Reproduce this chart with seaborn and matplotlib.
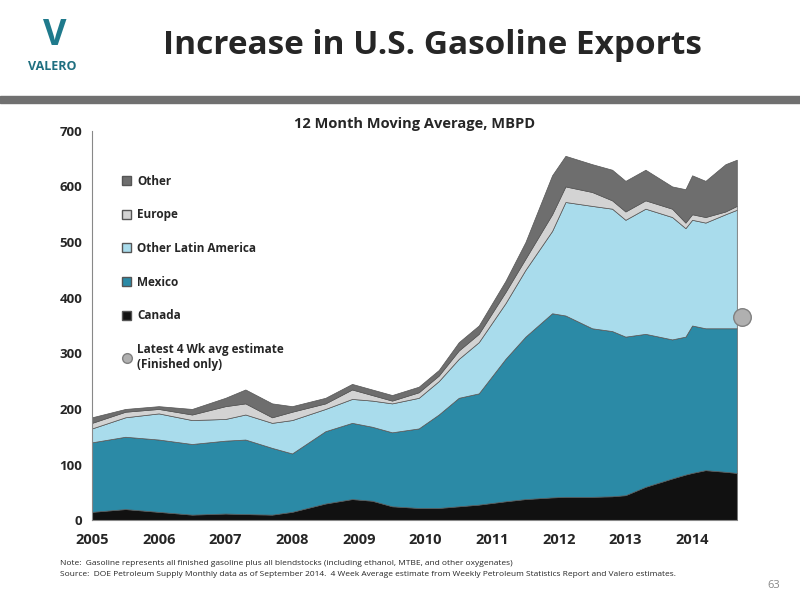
import matplotlib
matplotlib.use("Agg")
import matplotlib.pyplot as plt
import seaborn as sns
import numpy as np
from matplotlib.patches import Patch
from matplotlib.lines import Line2D

# cumulative stack tops, MBPD (12 month moving average)
years = [2005, 2005.5, 2006, 2006.5, 2007, 2007.3, 2007.7, 2008, 2008.5, 2008.9,
         2009.2, 2009.5, 2009.9, 2010.2, 2010.5, 2010.8, 2011.2, 2011.5, 2011.9, 2012.1,
         2012.5, 2012.8, 2013, 2013.3, 2013.7, 2013.9, 2014, 2014.2, 2014.5, 2014.67]
canada = [15, 20, 15, 10, 12, 11, 10, 15, 30, 38, 35, 25, 22, 22, 25, 28, 34, 38, 41, 42,
          42, 43, 45, 60, 75, 82, 85, 90, 87, 85]
mexico_top = [140, 150, 145, 137, 143, 145, 130, 120, 160, 175, 168, 158, 165, 190, 220, 228,
              290, 330, 372, 368, 345, 340, 330, 335, 325, 330, 350, 345, 345, 345]
other_latam_top = [165, 185, 192, 180, 182, 190, 175, 180, 200, 218, 215, 210, 220, 250, 290,
                   320, 390, 450, 520, 572, 565, 560, 540, 560, 545, 525, 540, 535, 550, 558]
europe_top = [175, 195, 200, 190, 205, 210, 185, 195, 210, 235, 225, 215, 230, 260, 305, 335,
              410, 470, 550, 600, 590, 575, 555, 575, 560, 535, 550, 545, 555, 565]
other_top = [185, 200, 205, 200, 220, 235, 210, 205, 220, 245, 235, 225, 240, 270, 320, 350,
             430, 500, 620, 655, 640, 630, 610, 630, 600, 595, 620, 610, 640, 648]
latest_x, latest_y = 2014.75, 365

layers = ["Canada", "Mexico", "Other Latin America", "Europe", "Other"]
colors = ["#111111", "#2b8aa6", "#a9dcec", "#d3d3d3", "#6e6e6e"]
tops = [canada, mexico_top, other_latam_top, europe_top, other_top]

sns.set_style("white")
plt.rcParams['font.family'] = ['Open Sans', 'DejaVu Sans']

fig = plt.figure(figsize=(8, 6), dpi=100)
ax = fig.add_axes([0.115, 0.133, 0.806, 0.649])

bottom = np.zeros(len(years))
for name, col, top in zip(layers, colors, tops):
    top = np.array(top, dtype=float)
    ax.fill_between(years, bottom, top, color=col, lw=0.5, edgecolor="#555555")
    bottom = top

ax.scatter([latest_x], [latest_y], s=160, color="#b0b0b0", edgecolor="#808080",
           zorder=5, clip_on=False)

ax.set_xlim(2005, 2014.67)
ax.set_ylim(0, 700)
ax.set_xticks(range(2005, 2015))
ax.set_yticks(range(0, 701, 100))
ax.tick_params(axis="x", labelsize=10.5, pad=6)
ax.tick_params(axis="y", labelsize=9.5)
for lab in ax.get_xticklabels() + ax.get_yticklabels():
    lab.set_fontweight("bold")
for s in ["top", "right"]:
    ax.spines[s].set_visible(False)
ax.spines["left"].set_color("#888888")
ax.spines["bottom"].set_color("#888888")
ax.set_title("12 Month Moving Average, MBPD", fontsize=10.5, fontweight="bold", pad=2)

handles = [Patch(facecolor=c, edgecolor="#555555") for c in colors[::-1]]
handles.append(Line2D([], [], marker="o", ls="", markersize=7,
                      markerfacecolor="#b0b0b0", markeredgecolor="#808080"))
labels = layers[::-1] + ["Latest 4 Wk avg estimate\n(Finished only)"]
leg = ax.legend(handles, labels, loc="upper left", bbox_to_anchor=(0.03, 0.915), frameon=False,
                labelspacing=1.75, handlelength=0.8, handleheight=0.8, handletextpad=0.5,
                prop={"weight": "bold", "size": 8.5})

# slide decoration
fig.text(0.54, 0.925, "Increase in U.S. Gasoline Exports", ha="center", va="center",
         fontsize=24, fontweight="bold")
fig.text(0.065, 0.89, "VALERO", ha="center", va="center", fontsize=9, fontweight="bold",
         color="#1f6f80")
fig.text(0.068, 0.94, "V", ha="center", va="center", fontsize=26, fontweight="bold",
         color="#1f7a8c")
fig.add_artist(plt.Rectangle((0, 0.828), 1, 0.012, transform=fig.transFigure,
                             color="#707070"))
fig.text(0.075, 0.058, "Note:  Gasoline represents all finished gasoline plus all blendstocks "
         "(including ethanol, MTBE, and other oxygenates)", fontsize=6)
fig.text(0.075, 0.04, "Source:  DOE Petroleum Supply Monthly data as of September 2014.  "
         "4 Week Average estimate from Weekly Petroleum Statistics Report and Valero estimates.",
         fontsize=6)
fig.text(0.975, 0.02, "63", ha="right", fontsize=8, color="#888888")

fig.savefig("out.png", dpi=100)
